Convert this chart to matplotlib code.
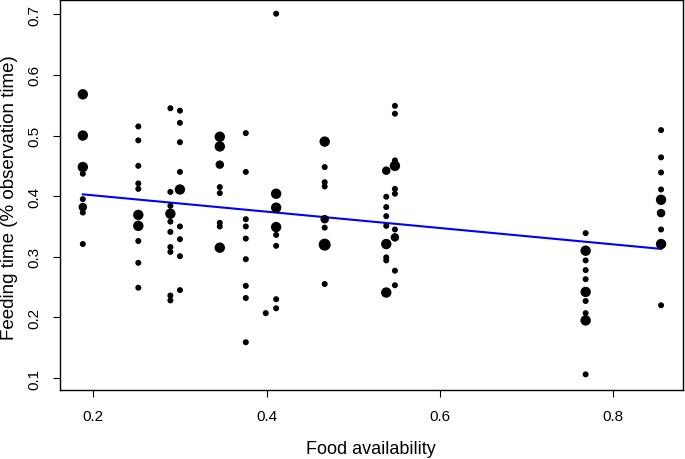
import matplotlib
matplotlib.use("Agg")
import matplotlib.pyplot as plt
import numpy as np

# ---- data: food availability levels and feeding-time observations ----
# weight = relative size of the plotted point (number of overlapping observations)
x_levels = [0.188, 0.252, 0.289, 0.300, 0.346, 0.376, 0.399, 0.411,
            0.467, 0.538, 0.548, 0.768, 0.855]

feed_a = [0.568, 0.500, 0.448, 0.437, 0.395, 0.382, 0.373, 0.321]
wt_a = [3, 3, 3, 1, 1, 2, 1, 1]
feed_b = [0.515, 0.492, 0.450, 0.421, 0.412, 0.369, 0.351, 0.326, 0.290, 0.249]
wt_b = [1, 1, 1, 1, 1, 3, 3, 1, 1, 1]
feed_c = [0.545, 0.407, 0.384, 0.371, 0.358, 0.341, 0.316, 0.308, 0.236, 0.228]
wt_c = [1, 1, 1, 3, 1, 1, 1, 1, 1, 1]
feed_d = [0.541, 0.521, 0.489, 0.440, 0.411, 0.350, 0.329, 0.301, 0.245]
wt_d = [1, 1, 1, 1, 3, 1, 1, 1, 1]
feed_e = [0.498, 0.482, 0.452, 0.415, 0.405, 0.356, 0.350, 0.315]
wt_e = [3, 3, 2, 1, 1, 1, 1, 3]
feed_f = [0.504, 0.440, 0.362, 0.350, 0.330, 0.296, 0.252, 0.232, 0.159]
wt_f = [1, 1, 1, 1, 1, 1, 1, 1, 1]
feed_g = [0.207]
wt_g = [1]
feed_h = [0.701, 0.404, 0.381, 0.349, 0.336, 0.318, 0.230, 0.215]
wt_h = [1, 3, 3, 3, 1, 1, 1, 1]
feed_i = [0.490, 0.448, 0.423, 0.416, 0.362, 0.348, 0.320, 0.255]
wt_i = [3, 1, 1, 1, 2, 1, 4, 1]
feed_j = [0.442, 0.399, 0.382, 0.367, 0.351, 0.321, 0.299, 0.294, 0.241]
wt_j = [2, 1, 1, 1, 1, 3, 1, 1, 3]
feed_k = [0.549, 0.536, 0.459, 0.450, 0.412, 0.404, 0.345, 0.332, 0.277, 0.253]
wt_k = [1, 1, 1, 3, 1, 1, 1, 2, 1, 1]
feed_l = [0.339, 0.310, 0.294, 0.278, 0.263, 0.242, 0.227, 0.207, 0.195, 0.106]
wt_l = [1, 3, 1, 1, 1, 3, 1, 1, 3, 1]
feed_m = [0.509, 0.464, 0.439, 0.411, 0.394, 0.372, 0.345, 0.321, 0.220]
wt_m = [1, 1, 1, 1, 3, 2, 1, 3, 1]

fit_x = [0.188, 0.855]
fit_y = [0.403, 0.313]

x_ticks = [0.2, 0.4, 0.6, 0.8]
y_ticks = [0.1, 0.2, 0.3, 0.4, 0.5, 0.6, 0.7]
x_label = "Food availability"
y_label = "Feeding time (% observation time)"

# ---- assemble ----
feeds = [feed_a, feed_b, feed_c, feed_d, feed_e, feed_f, feed_g,
         feed_h, feed_i, feed_j, feed_k, feed_l, feed_m]
wts = [wt_a, wt_b, wt_c, wt_d, wt_e, wt_f, wt_g,
       wt_h, wt_i, wt_j, wt_k, wt_l, wt_m]
xs, ys, ws = [], [], []
for xv, fy, fw in zip(x_levels, feeds, wts):
    xs += [xv] * len(fy)
    ys += fy
    ws += fw
xs = np.array(xs); ys = np.array(ys); ws = np.array(ws)

plt.rcParams['font.family'] = ['Liberation Sans', 'DejaVu Sans']

W, H = 685, 460
fig = plt.figure(figsize=(W / 100, H / 100), dpi=100)
L, R, T, B = 59.5, 683, 1.0, 391
ax = fig.add_axes([L / W, 1 - B / H, (R - L) / W, (B - T) / H])

# point diameter ~6 px for a single observation, area proportional to weight
base_pt = 6 * 0.72
ax.scatter(xs, ys, s=(base_pt ** 2) * ws, c='black', edgecolors='none', zorder=3)
ax.plot(fit_x, fit_y, color='#0000FF', lw=1.5, zorder=2)

ax.set_xlim(0.1611, 0.8803)
ax.set_ylim(0.0802, 0.7236)
ax.set_xticks(x_ticks)
ax.set_xticklabels([f"{v:.1f}" for v in x_ticks])
ax.set_yticks(y_ticks)
ax.set_yticklabels([f"{v:.1f}" for v in y_ticks])

for sp in ax.spines.values():
    sp.set_linewidth(1.0)
    sp.set_color('black')
ax.tick_params(direction='out', length=5, width=0.8, labelsize=11, colors='black')
ax.tick_params(axis='x', pad=9)
ax.tick_params(axis='y', pad=8)
for lab in ax.get_yticklabels():
    lab.set_rotation(90)
    lab.set_va('center')

ax.set_xlabel(x_label, fontsize=13)
ax.set_ylabel(y_label, fontsize=13.5, va='center')
ax.xaxis.set_label_coords(0.5, -(450 - B) / (B - T))
ax.xaxis.label.set_va('center')
ax.yaxis.set_label_coords(-(L - 10) / (R - L), (B - 198) / (B - T))

fig.savefig("out.png", dpi=100)
